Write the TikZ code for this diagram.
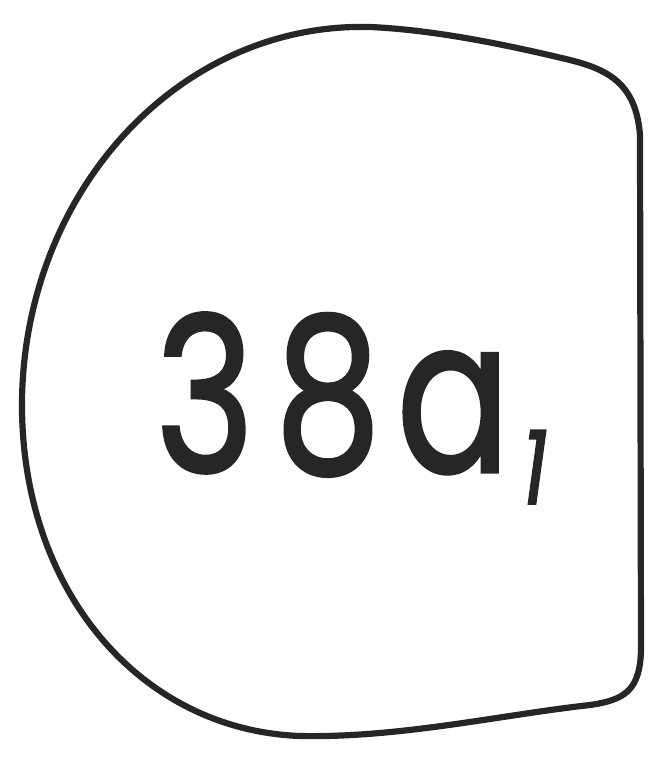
\documentclass[tikz,border=0pt]{standalone}
\usepackage{fontspec}
\newfontfamily\markfont{Poppins}[FakeBold=1.6]

\begin{document}
\begin{tikzpicture}[
    x=0.5pt, y=-0.5pt,
    outline/.style={draw=black!85, line width=3.1pt, line join=round, line cap=round},
    mark text/.style={font=\fontsize{108}{108}\markfont, text=black!85, inner sep=0pt, xscale=0.78},
]
\useasboundingbox (0,0) rectangle (654,762);

% outer contour: round on the left, straight on the right
\draw[outline] (640,135)
    .. controls (636,85) and (610,70) .. (570,60)
    .. controls (520,48) and (440,30) .. (370,27)
    .. controls (180,22) and (25,190) .. (22,400)
    .. controls (20,590) and (140,730) .. (300,736)
    .. controls (400,738) and (500,715) .. (590,705)
    .. controls (625,700) and (640,690) .. (641,650)
    -- cycle;

% label
\node[mark text, anchor=base west] (label) at (155,472)
    {3\hspace{13pt}8\hspace{10pt}a\hspace{7pt}\raisebox{-16pt}{\fontsize{52}{52}\selectfont\itshape 1}};

\end{tikzpicture}
\end{document}
